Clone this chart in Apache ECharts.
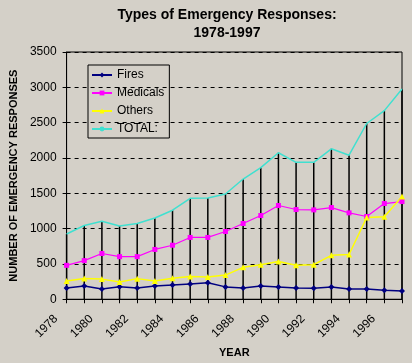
<!DOCTYPE html>
<html>
<head>
<meta charset="utf-8">
<script src="https://cdn.jsdelivr.net/npm/echarts@6/dist/echarts.min.js"></script>
<style>
html,body{margin:0;padding:0;background:#d4d0c8;}
#c{width:412px;height:363px;}
</style>
</head>
<body>
<div id="c"></div>
<script>
const years = ['1978','1979','1980','1981','1982','1983','1984','1985','1986','1987','1988','1989','1990','1991','1992','1993','1994','1995','1996','1997'];
const fires = [160, 187, 146, 177, 160, 189, 202, 217, 233, 175, 160, 187, 172, 158, 155, 175, 146, 146, 128, 116];
const medicals = [480, 547, 648, 603, 603, 705, 765, 875, 875, 959, 1072, 1185, 1327, 1270, 1265, 1298, 1223, 1171, 1355, 1383];
const others = [257, 294, 285, 245, 292, 260, 298, 323, 314, 342, 452, 490, 533, 480, 490, 622, 634, 1157, 1167, 1454];
const total = [924, 1044, 1103, 1037, 1072, 1150, 1260, 1428, 1433, 1490, 1702, 1864, 2074, 1938, 1938, 2130, 2039, 2488, 2670, 2977];
const yTicks = [0, 500, 1000, 1500, 2000, 2500, 3000, 3500];

const FONT = 'Liberation Sans, Arial, sans-serif';
const chart = echarts.init(document.getElementById('c'));
chart.setOption({
  backgroundColor: '#d4d0c8',
  animation: false,
  textStyle: { fontFamily: FONT, color: '#000' },
  title: {
    text: 'Types of Emergency Responses:\n1978-1997',
    left: 222, top: 1, textAlign: 'center',
    textStyle: { fontFamily: FONT, fontSize: 14, fontWeight: 'bold', color: '#000', lineHeight: 18 }
  },
  legend: {
    data: ['Fires', 'Medicals', 'Others', 'TOTAL:'],
    orient: 'vertical',
    left: 88, top: 65,
    padding: [4, 5, 3, 3],
    itemWidth: 20, itemHeight: 6, itemGap: 6,
    borderColor: '#000', borderWidth: 1,
    textStyle: { fontFamily: FONT, fontSize: 12, color: '#000', lineHeight: 12 }
  },
  grid: { left: 64, right: 10, top: 52, bottom: 63.5, show: true, borderColor: '#000', borderWidth: 1, backgroundColor: 'transparent' },
  xAxis: {
    type: 'category', data: years, boundaryGap: false,
    name: 'YEAR', nameLocation: 'middle', nameGap: 47,
    nameTextStyle: { fontFamily: FONT, fontSize: 11, fontWeight: 'bold', color: '#000' },
    axisLine: { lineStyle: { color: '#000', width: 1 } },
    axisTick: { show: true, interval: 0, length: 4, lineStyle: { color: '#000' } },
    axisLabel: { interval: 1, rotate: 45, fontSize: 12, color: '#000', fontFamily: FONT, margin: 7, padding: [0, 15, 0, 0] },
    splitLine: { show: false }
  },
  yAxis: {
    type: 'value', min: yTicks[0], max: yTicks[yTicks.length - 1], interval: 500,
    name: 'NUMBER OF EMERGENCY RESPONSES', nameLocation: 'middle', nameGap: 46,
    nameTextStyle: { fontFamily: FONT, fontSize: 11, fontWeight: 'bold', color: '#000' },
    axisLine: { show: true, lineStyle: { color: '#000', width: 1 } },
    axisTick: { show: true, length: 4, lineStyle: { color: '#000' } },
    axisLabel: { fontSize: 12, color: '#000', fontFamily: FONT, margin: 10, formatter: v => String(v) },
    splitLine: { show: true, lineStyle: { color: '#000', type: [4, 4], width: 1 } }
  },
  series: [
    { name: 'drop', type: 'bar', data: total, barWidth: 1.5, itemStyle: { color: '#000' }, silent: true, z: 1 },
    { name: 'Fires', type: 'line', data: fires, color: '#000080', symbol: 'diamond', symbolSize: 6,
      lineStyle: { width: 1.5, color: '#000080' }, itemStyle: { color: '#000080' }, z: 3 },
    { name: 'Medicals', type: 'line', data: medicals, color: '#ff00ff', symbol: 'rect', symbolSize: 5,
      lineStyle: { width: 1.2, color: '#ff00ff' }, itemStyle: { color: '#ff00ff' }, z: 3 },
    { name: 'Others', type: 'line', data: others, color: '#ffff00', symbol: 'triangle', symbolSize: 6,
      lineStyle: { width: 1.5, color: '#ffff00' }, itemStyle: { color: '#ffff00' }, z: 3 },
    { name: 'TOTAL:', type: 'line', data: total, color: '#40e0d0', symbol: 'none',
      lineStyle: { width: 1.5, color: '#40e0d0' }, itemStyle: { color: '#40e0d0' }, z: 3 }
  ]
});
</script>
</body>
</html>
